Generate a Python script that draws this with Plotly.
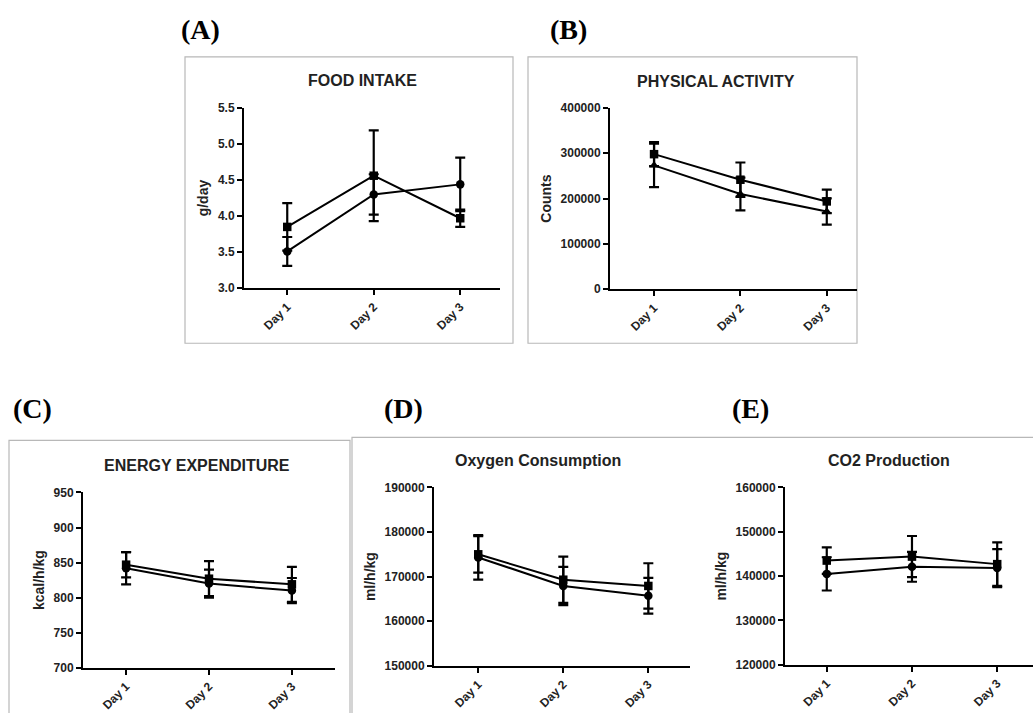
import plotly.graph_objects as go

W, H = 1033, 713
days = ["Day 1", "Day 2", "Day 3"]
xi = [0, 1, 2]

# Panel A: Food intake (g/day)
food_sq = [3.85, 4.56, 3.97]
food_sq_err = [0.33, 0.63, 0.12]
food_ci = [3.51, 4.30, 4.44]
food_ci_err = [0.20, 0.28, 0.37]

# Panel B: Physical activity (counts)
act_sq = [298000, 241600, 193700]
act_sq_err = [26600, 38000, 26000]
act_ci = [273300, 210000, 171600]
act_ci_err = [48000, 36000, 29000]

# Panel C: Energy expenditure (kcal/h/kg)
ee_sq = [847, 827, 819]
ee_sq_err = [18, 25, 25]
ee_ci = [842, 820, 810]
ee_ci_err = [23, 20, 18]

# Panel D: Oxygen consumption (ml/h/kg)
o2_sq = [175000, 169300, 167900]
o2_sq_err = [4100, 5200, 5100]
o2_ci = [174300, 167900, 165700]
o2_ci_err = [5000, 4300, 4000]

# Panel E: CO2 production (ml/h/kg)
co2_sq = [143500, 144400, 142700]
co2_sq_err = [3000, 4650, 4900]
co2_ci = [140500, 142100, 141800]
co2_ci_err = [3750, 3380, 4300]

FONT = "Arial, Liberation Sans, sans-serif"


def px(x):
    return x / W


def py(y):
    # vertical pixel position (from top) -> paper coordinate
    return 1 - ((y - 7.2) / 0.979) / H


panels = [
    ("FOOD INTAKE", "g/day", food_sq, food_sq_err, food_ci, food_ci_err,
     (244, 500), (108, 288), [3.0, 5.5], 0.5, [-0.5, 2.46], "circle"),
    ("PHYSICAL ACTIVITY", "Counts", act_sq, act_sq_err, act_ci, act_ci_err,
     (610, 857), (108, 289), [0, 400000], 100000, [-0.51, 2.35], "triangle-up"),
    ("ENERGY EXPENDITURE", "kcal/h/kg", ee_sq, ee_sq_err, ee_ci, ee_ci_err,
     (83, 335), (492, 667), [700, 950], 50, [-0.52, 2.52], "circle"),
    ("Oxygen Consumption", "ml/h/kg", o2_sq, o2_sq_err, o2_ci, o2_ci_err,
     (434, 690), (487, 665), [150000, 190000], 10000, [-0.52, 2.49], "circle"),
    ("CO2 Production", "ml/h/kg", co2_sq, co2_sq_err, co2_ci, co2_ci_err,
     (785, 1033), (487, 664), [120000, 160000], 10000, [-0.49, 2.42], "circle"),
]

fig = go.Figure()
layout = dict(
    width=W, height=H, margin=dict(l=0, r=0, t=0, b=0),
    paper_bgcolor="white", plot_bgcolor="rgba(0,0,0,0)",
    showlegend=False, font=dict(family=FONT, color="black"),
    shapes=[], annotations=[],
)

for i, (title, ytitle, sq, sqe, ci, cie, xp, yp, yr, dt, xr, sym) in enumerate(panels):
    n = "" if i == 0 else str(i + 1)
    xa, ya = "x" + n, "y" + n
    for vals, errs, mk in ((sq, sqe, "square"), (ci, cie, sym)):
        fig.add_trace(go.Scatter(
            x=xi, y=vals, xaxis=xa, yaxis=ya, mode="lines+markers",
            line=dict(color="black", width=2),
            marker=dict(symbol=mk, size=8.5, color="black"),
            error_y=dict(type="data", array=errs, visible=True,
                         color="black", thickness=2.2, width=5),
            cliponaxis=False,
        ))
    layout["xaxis" + n] = dict(
        domain=[px(xp[0]), min(1.0, px(xp[1]))], anchor=ya, range=xr,
        tickmode="array", tickvals=xi, ticktext=days, tickangle=-45,
        showline=True, linecolor="black", linewidth=2,
        ticks="outside", ticklen=5, tickwidth=2, tickcolor="black",
        showgrid=False, zeroline=False,
        tickfont=dict(family=FONT, size=12, color="#222", weight="bold"),
    )
    layout["yaxis" + n] = dict(
        domain=[py(yp[1]), py(yp[0])], anchor=xa, range=yr,
        dtick=dt, tick0=yr[0], tickformat=".1f" if dt < 1 else "d",
        showline=True, linecolor="black", linewidth=2,
        ticks="outside", ticklen=5, tickwidth=2, tickcolor="black",
        showgrid=False, zeroline=False,
        tickfont=dict(family=FONT, size=12, color="#222", weight="bold"),
        title=dict(text=ytitle, standoff=6,
                   font=dict(family=FONT, size=14, color="#222", weight="bold")),
    )

titles_pos = [(362, 81), (716, 82), (197, 465), (538, 460), (889, 460)]
for (title, *_), (tx, ty) in zip(panels, titles_pos):
    layout["annotations"].append(dict(
        text=title, x=px(tx), y=py(ty), xref="paper", yref="paper",
        showarrow=False, xanchor="center", yanchor="middle",
        font=dict(family=FONT, size=16, color="#222", weight="bold")))

letters = [("(A)", 200, 30), ("(B)", 568, 30), ("(C)", 32, 408), ("(D)", 403, 408), ("(E)", 750, 408)]
for t, lx, ly in letters:
    layout["annotations"].append(dict(
        text=t, x=px(lx), y=py(ly), xref="paper", yref="paper",
        showarrow=False, xanchor="center", yanchor="middle",
        font=dict(family="Liberation Serif, Times New Roman, serif", size=28,
                  color="black", weight="bold")))

boxes = [(185, 57, 513, 343), (528, 57, 857, 343), (9, 440, 350, 716), (352, 437, 1034, 716)]
for x0, y0, x1, y1 in boxes:
    layout["shapes"].append(dict(
        type="rect", xref="paper", yref="paper", layer="below",
        x0=px(x0), x1=px(x1), y0=py(y1), y1=py(y0),
        line=dict(color="#b8b8b8", width=1.2), fillcolor="rgba(0,0,0,0)"))

fig.update_layout(**layout)
fig.write_html(
    "out.html",
    config={"displayModeBar": False},
    post_script=(
        "document.documentElement.style.margin='0';"
        "document.body.style.margin='0';document.body.style.overflow='hidden';"
        "var d=document.getElementById('{plot_id}');"
        "d.style.position='fixed';d.style.top='0px';d.style.left='0px';"
    ),
)
